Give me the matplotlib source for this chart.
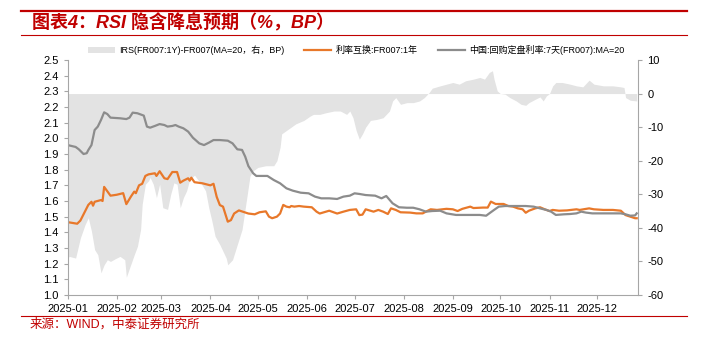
import pandas as pd
import matplotlib
matplotlib.use("Agg")
import matplotlib.pyplot as plt
import matplotlib.dates as mdates
from matplotlib.patches import Patch
from matplotlib.lines import Line2D

plt.rcParams["font.family"] = ["Liberation Sans", "Noto Sans CJK SC", "DejaVu Sans"]
plt.rcParams["axes.unicode_minus"] = False

# IRS(FR007:1Y)-FR007 spread, BP (right axis)
bp_dates = ["01-01", "01-02", "01-06", "01-07", "01-09", "01-12", "01-14", "01-16", "01-18", "01-20",
            "01-22", "01-24", "01-26", "01-28", "01-31", "02-03", "02-06", "02-07", "02-09", "02-12",
            "02-14", "02-16", "02-17", "02-19", "02-21", "02-22", "02-24", "02-26", "02-28", "03-02",
            "03-05", "03-07", "03-09", "03-11", "03-13", "03-15", "03-17", "03-19", "03-22", "03-24",
            "03-26", "03-29", "03-31", "04-02", "04-04", "04-07", "04-11", "04-12", "04-15", "04-18",
            "04-21", "04-24", "04-26", "04-28", "05-01", "05-06", "05-11", "05-13", "05-15", "05-16",
            "05-19", "05-22", "05-25", "05-30", "06-03", "06-05", "06-09", "06-13", "06-18", "06-22",
            "06-26", "06-28", "06-30", "07-02", "07-04", "07-06", "07-08", "07-11", "07-15", "07-19",
            "07-23", "07-25", "07-27", "07-30", "08-03", "08-07", "08-11", "08-14", "08-17", "08-19",
            "08-24", "08-28", "09-01", "09-05", "09-09", "09-14", "09-18", "09-21", "09-24", "09-26",
            "09-27", "09-29", "10-01", "10-04", "10-07", "10-11", "10-14", "10-17", "10-19", "10-23",
            "10-26", "10-28", "10-30", "11-01", "11-03", "11-05", "11-09", "11-14", "11-18", "11-22",
            "11-26", "11-29", "12-05", "12-11", "12-16", "12-18", "12-19", "12-22", "12-26"]
bp_values = [-49.0, -48.5, -49.0, -47.0, -43.0, -39.0, -37.0, -41.0, -46.5, -48.0,
             -53.4, -51.0, -49.5, -50.0, -49.2, -48.5, -49.5, -54.7, -52.0, -48.0,
             -45.5, -40.5, -33.0, -27.0, -26.0, -25.0, -27.0, -31.0, -27.0, -34.0,
             -34.5, -30.0, -26.6, -27.0, -34.0, -31.0, -29.0, -25.6, -24.3, -25.6,
             -26.6, -29.0, -34.0, -38.0, -42.5, -45.0, -49.0, -51.0, -49.5, -45.0,
             -40.5, -31.0, -24.6, -23.0, -22.0, -21.5, -21.5, -20.0, -16.0, -12.0,
             -11.0, -10.0, -9.0, -8.0, -6.7, -6.2, -6.2, -5.7, -5.2, -5.2,
             -6.2, -5.2, -7.2, -11.0, -13.6, -12.0, -10.0, -8.0, -7.7, -7.2,
             -5.2, -2.2, -1.2, -3.2, -2.7, -2.7, -2.2, -1.2, 0.3, 1.6,
             2.3, 2.8, 3.3, 2.8, 3.8, 4.3, 4.8, 4.3, 6.3, 6.8,
             4.3, 0.8, 0.0, -0.2, -1.2, -2.2, -3.2, -3.5, -2.7, -1.7,
             -1.0, -2.2, -0.7, 0.0, 2.3, 3.3, 3.3, 2.8, 2.3, 2.0,
             4.0, 2.8, 2.3, 2.3, 2.0, 1.8, -1.2, -2.0, -2.2]

# IRS FR007 1Y, %
irs_dates = ["01-01", "01-07", "01-09", "01-14", "01-16", "01-17", "01-18", "01-22", "01-23", "01-24",
             "01-28", "02-01", "02-05", "02-07", "02-10", "02-12", "02-13", "02-15", "02-17", "02-19",
             "02-21", "02-25", "02-26", "02-28", "03-01", "03-03", "03-05", "03-08", "03-11", "03-13",
             "03-15", "03-18", "03-19", "03-20", "03-22", "03-27", "04-01", "04-03", "04-05", "04-07",
             "04-09", "04-12", "04-14", "04-16", "04-19", "04-22", "04-25", "04-29", "05-02", "05-06",
             "05-08", "05-10", "05-13", "05-15", "05-17", "05-19", "05-21", "05-22", "05-24", "05-27",
             "05-30", "06-04", "06-07", "06-09", "06-13", "06-15", "06-20", "06-24", "06-28", "07-02",
             "07-04", "07-06", "07-08", "07-13", "07-16", "07-19", "07-22", "07-24", "07-27", "07-30",
             "08-05", "08-09", "08-13", "08-15", "08-18", "08-22", "08-28", "09-01", "09-04", "09-07",
             "09-12", "09-14", "09-20", "09-23", "09-25", "09-28", "10-03", "10-06", "10-09", "10-12",
             "10-15", "10-17", "10-19", "10-23", "10-26", "10-29", "11-01", "11-03", "11-07", "11-12",
             "11-18", "11-20", "11-26", "11-29", "12-05", "12-11", "12-16", "12-19", "12-22", "12-25",
             "12-26"]
irs_values = [1.465, 1.455, 1.475, 1.575, 1.595, 1.570, 1.595, 1.606, 1.600, 1.690,
              1.634, 1.640, 1.650, 1.580, 1.630, 1.660, 1.650, 1.700, 1.710, 1.760,
              1.770, 1.777, 1.760, 1.790, 1.775, 1.745, 1.740, 1.785, 1.785, 1.717,
              1.730, 1.745, 1.730, 1.749, 1.720, 1.713, 1.700, 1.710, 1.627, 1.574,
              1.564, 1.468, 1.478, 1.520, 1.540, 1.530, 1.520, 1.515, 1.528, 1.534,
              1.500, 1.490, 1.500, 1.520, 1.575, 1.564, 1.560, 1.568, 1.564, 1.568,
              1.564, 1.560, 1.532, 1.520, 1.532, 1.538, 1.520, 1.532, 1.543, 1.547,
              1.510, 1.513, 1.547, 1.532, 1.543, 1.532, 1.517, 1.553, 1.543, 1.528,
              1.526, 1.521, 1.521, 1.532, 1.547, 1.543, 1.550, 1.547, 1.536, 1.550,
              1.564, 1.555, 1.558, 1.558, 1.596, 1.581, 1.581, 1.568, 1.564, 1.553,
              1.547, 1.525, 1.538, 1.553, 1.560, 1.547, 1.536, 1.543, 1.538, 1.540,
              1.547, 1.543, 1.553, 1.547, 1.543, 1.543, 1.538, 1.510, 1.500, 1.490,
              1.490]

# FR007 7-day repo fixing, MA20, %
fr_dates = ["01-01", "01-06", "01-08", "01-11", "01-13", "01-14", "01-16", "01-18", "01-20", "01-22",
            "01-24", "01-26", "01-28", "02-03", "02-07", "02-09", "02-11", "02-14", "02-18", "02-20",
            "02-22", "02-25", "02-28", "03-03", "03-05", "03-08", "03-10", "03-12", "03-15", "03-18",
            "03-21", "03-25", "03-28", "03-31", "04-03", "04-07", "04-12", "04-15", "04-18", "04-21",
            "04-23", "04-25", "04-28", "04-30", "05-07", "05-11", "05-15", "05-19", "05-23", "05-28",
            "06-02", "06-06", "06-10", "06-15", "06-20", "06-24", "06-28", "07-01", "07-04", "07-08",
            "07-14", "07-18", "07-21", "07-25", "07-29", "08-03", "08-07", "08-11", "08-15", "08-19",
            "08-24", "08-28", "09-03", "09-12", "09-18", "09-22", "09-24", "09-27", "09-30", "10-04",
            "10-09", "10-17", "10-22", "10-26", "10-30", "11-02", "11-05", "11-10", "11-14", "11-18",
            "11-21", "11-24", "11-28", "12-05", "12-11", "12-16", "12-19", "12-22", "12-25", "12-26"]
fr_values = [1.957, 1.945, 1.930, 1.900, 1.905, 1.925, 1.957, 2.053, 2.075, 2.117,
             2.166, 2.155, 2.132, 2.128, 2.123, 2.132, 2.164, 2.160, 2.145, 2.075,
             2.068, 2.079, 2.091, 2.085, 2.075, 2.079, 2.085, 2.075, 2.064, 2.043,
             2.004, 1.968, 1.957, 1.972, 1.989, 1.989, 1.985, 1.968, 1.930, 1.926,
             1.883, 1.823, 1.777, 1.760, 1.760, 1.734, 1.713, 1.681, 1.666, 1.653,
             1.649, 1.628, 1.617, 1.617, 1.613, 1.628, 1.634, 1.649, 1.645, 1.638,
             1.634, 1.617, 1.632, 1.585, 1.560, 1.557, 1.557, 1.547, 1.532, 1.536,
             1.538, 1.521, 1.511, 1.511, 1.511, 1.506, 1.521, 1.543, 1.564, 1.568,
             1.568, 1.568, 1.564, 1.553, 1.543, 1.532, 1.511, 1.515, 1.517, 1.521,
             1.532, 1.526, 1.521, 1.521, 1.521, 1.521, 1.515, 1.506, 1.508, 1.521]

labels = ["IRS(FR007:1Y)-FR007(MA=20，右，BP)", "利率互换:FR007:1年", "中国:回购定盘利率:7天(FR007):MA=20"]


def to_dates(md):
    return pd.to_datetime(["2025-" + d for d in md])


red = "#C00000"
orange = "#E8782A"
gray = "#8C8C8C"
area = "#E3E3E3"
axis_col = "#A6A6A6"

fig = plt.figure(figsize=(7.24, 3.46), dpi=100)
ax = fig.add_axes([0.0935, 0.1474, 0.7881, 0.6792])
ax2 = ax.twinx()

ax2.fill_between(to_dates(bp_dates), 0, bp_values, color=area, linewidth=0)
ax.plot(to_dates(irs_dates), irs_values, color=orange, lw=1.6)
ax.plot(to_dates(fr_dates), fr_values, color=gray, lw=1.6)

ax.set_zorder(ax2.get_zorder() + 1)
ax.patch.set_visible(False)

ax.set_xlim(pd.Timestamp("2025-01-01"), pd.Timestamp("2025-12-27"))
ax.set_ylim(1.0, 2.5)
ax.set_yticks([1.0 + 0.1 * i for i in range(16)])
ax.yaxis.set_major_formatter(plt.FormatStrFormatter("%.1f"))
ax2.set_ylim(-60, 10)
ax2.set_yticks(range(-60, 11, 10))

ax.xaxis.set_major_locator(mdates.MonthLocator())
ax.xaxis.set_major_formatter(mdates.DateFormatter("%Y-%m"))

for a in (ax, ax2):
    for s in a.spines.values():
        s.set_color(axis_col)
        s.set_linewidth(0.8)
    a.spines["top"].set_visible(False)
    a.tick_params(colors=axis_col, labelcolor="black", labelsize=8, length=3, width=0.8)
ax.spines["right"].set_visible(False)
ax2.spines["left"].set_visible(False)
ax2.spines["bottom"].set_visible(False)

handles = [Patch(facecolor=area, edgecolor="none"),
           Line2D([], [], color=orange, lw=1.6),
           Line2D([], [], color=gray, lw=1.6)]
fig.legend(handles, labels, ncol=3, loc="center left", bbox_to_anchor=(0.121, 0.855),
           frameon=False, fontsize=6.5, handlelength=3.0, handleheight=0.6,
           columnspacing=2.2, handletextpad=0.5, borderaxespad=0, borderpad=0)

fig.text(0.044, 0.933, "图表4：RSI 隐含降息预期（%，BP）", color=red, fontsize=13,
         fontweight="bold", fontstyle="italic", va="center", ha="left")
fig.add_artist(Line2D([0.029, 0.949], [0.968, 0.968], color=red, lw=1.6))
fig.add_artist(Line2D([0.029, 0.949], [0.899, 0.899], color=red, lw=0.8))
fig.add_artist(Line2D([0.029, 0.949], [0.087, 0.087], color=red, lw=0.8))
fig.text(0.041, 0.061, "来源：WIND，中泰证券研究所", color=red, fontsize=9, va="center", ha="left")

fig.savefig("out.png", dpi=100)
